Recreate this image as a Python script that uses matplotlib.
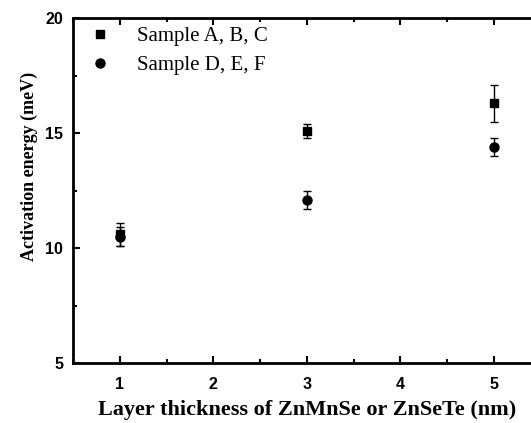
import numpy as np
import matplotlib.pyplot as plt
from matplotlib.ticker import MultipleLocator

# Activation energy vs layer thickness
thickness = [1, 3, 5]
energy_abc = [10.6, 15.1, 16.3]
err_abc = [0.5, 0.3, 0.8]
energy_def = [10.5, 12.1, 14.4]
err_def = [0.4, 0.4, 0.4]

fig = plt.figure(figsize=(5.31, 4.23), dpi=100)
ax = fig.add_axes([0.1375, 0.1418, 0.8804, 0.8156])

ax.errorbar(thickness, energy_abc, yerr=err_abc, fmt='s', color='black',
            markersize=6, capsize=3, elinewidth=1, capthick=1,
            label='Sample A, B, C')
ax.errorbar(thickness, energy_def, yerr=err_def, fmt='o', color='black',
            markersize=6.5, capsize=3, elinewidth=1, capthick=1,
            label='Sample D, E, F')

ax.set_xlim(0.5, 5.5)
ax.set_ylim(5, 20)
ax.xaxis.set_major_locator(MultipleLocator(1))
ax.xaxis.set_minor_locator(MultipleLocator(0.5))
ax.yaxis.set_major_locator(MultipleLocator(5))
ax.yaxis.set_minor_locator(MultipleLocator(2.5))
ax.tick_params(which='both', direction='in', top=True, right=True, width=1.5)
ax.tick_params(which='major', length=5)
ax.tick_params(which='minor', length=3)
for s in ax.spines.values():
    s.set_linewidth(2)

for lbl in ax.get_xticklabels() + ax.get_yticklabels():
    lbl.set_family('Liberation Sans')
    lbl.set_fontweight('bold')
    lbl.set_fontsize(11.5)
ax.tick_params(axis='x', which='major', pad=10)
ax.tick_params(axis='y', which='major', pad=7)

ax.set_xlabel('Layer thickness of ZnMnSe or ZnSeTe (nm)', family='Liberation Serif',
              fontweight='bold', fontsize=16, labelpad=6)
ax.set_ylabel('Activation energy (meV)', family='Liberation Serif',
              fontweight='bold', fontsize=13)
ax.yaxis.set_label_coords(-0.075, 0.57)

handles, labels = ax.get_legend_handles_labels()
handles = [h[0] for h in handles]
ax.legend(handles, labels, loc='upper left', frameon=False,
          prop={'family': 'Liberation Serif', 'size': 15},
          handletextpad=1.3, borderaxespad=0.0, labelspacing=0.45,
          handlelength=1.0, bbox_to_anchor=(0.017, 1.0))

plt.savefig('out.png')
